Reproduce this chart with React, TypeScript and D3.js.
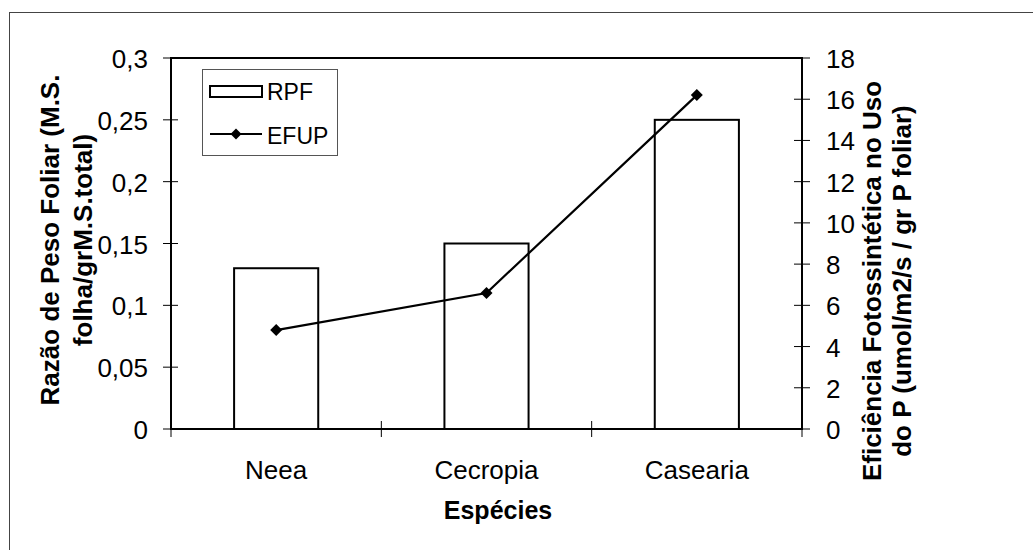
import React from "react";
import * as d3 from "d3";

const categories = ["Neea", "Cecropia", "Casearia"];
const rpfValues = [0.13, 0.15, 0.25];
const efupValues = [4.8, 6.6, 16.2];
const leftTicks = [0, 0.05, 0.1, 0.15, 0.2, 0.25, 0.3];
const rightTicks = [0, 2, 4, 6, 8, 10, 12, 14, 16, 18];

const W = 1033;
const H = 550;
const FONT = "'Liberation Sans', Arial, Helvetica, sans-serif";

const plot = {left: 171, right: 802, top: 58, bottom: 429};

const fmtLeft = (v: number) => String(v).replace(".", ",");

const App: React.FC = () => {
	const x = d3
		.scaleBand<string>()
		.domain(categories)
		.range([plot.left, plot.right])
		.paddingInner(0.6)
		.paddingOuter(0.3);
	const step = x.step();
	const yL = d3.scaleLinear().domain([0, 0.3]).range([plot.bottom, plot.top]);
	const yR = d3.scaleLinear().domain([0, 18]).range([plot.bottom, plot.top]);

	const cx = (c: string) => (x(c) as number) + x.bandwidth() / 2;

	const line = d3
		.line<number>()
		.x((_, i) => cx(categories[i]))
		.y((d) => yR(d));

	const diamond = (px: number, py: number, r = 5.5) =>
		`M${px},${py - r}L${px + r},${py}L${px},${py + r}L${px - r},${py}Z`;

	// category boundaries for x ticks
	const boundaries = [plot.left, ...categories.map((c) => (x(c) as number) - step * 0.3 + step)];

	return (
		<svg
			width={W}
			height={H}
			style={{position: "absolute", left: 0, top: 0, background: "#fff"}}
			fontFamily={FONT}
		>
			{/* outer chart border */}
			<rect x={9.5} y={12.5} width={W + 20} height={H + 20} fill="none" stroke="#444" strokeWidth={1} />

			{/* bars */}
			{categories.map((c, i) => (
				<rect
					key={c}
					x={x(c)}
					y={yL(rpfValues[i])}
					width={x.bandwidth()}
					height={plot.bottom - yL(rpfValues[i])}
					fill="#fff"
					stroke="#000"
					strokeWidth={2}
				/>
			))}

			{/* plot frame */}
			<rect
				x={plot.left}
				y={plot.top}
				width={plot.right - plot.left}
				height={plot.bottom - plot.top}
				fill="none"
				stroke="#000"
				strokeWidth={2}
			/>

			{/* left axis ticks */}
			{leftTicks.map((t) => (
				<g key={"l" + t}>
					<line x1={plot.left - 8} x2={plot.left + 7} y1={yL(t)} y2={yL(t)} stroke="#000" strokeWidth={1} />
					<text x={148} y={yL(t) + 10} textAnchor="end" fontSize={26} fill="#000">
						{fmtLeft(t)}
					</text>
				</g>
			))}

			{/* right axis ticks */}
			{rightTicks.map((t) => (
				<g key={"r" + t}>
					<line x1={plot.right - 8} x2={plot.right + 8} y1={yR(t)} y2={yR(t)} stroke="#000" strokeWidth={1} />
					<text x={826} y={yR(t) + 10} textAnchor="start" fontSize={26} fill="#000">
						{t}
					</text>
				</g>
			))}

			{/* x ticks */}
			{boundaries.map((b, i) => (
				<line key={"x" + i} x1={b} x2={b} y1={plot.bottom - 8} y2={plot.bottom + 8} stroke="#000" strokeWidth={1} />
			))}
			{categories.map((c) => (
				<text key={"c" + c} x={cx(c)} y={479} textAnchor="middle" fontSize={26} fill="#000">
					{c}
				</text>
			))}

			{/* EFUP line */}
			<path d={line(efupValues) || ""} fill="none" stroke="#000" strokeWidth={2.2} />
			{efupValues.map((v, i) => (
				<path key={"m" + i} d={diamond(cx(categories[i]), yR(v), 6)} fill="#000" />
			))}

			{/* axis titles */}
			<text x={498} y={519} textAnchor="middle" fontSize={25} fontWeight="bold" fill="#000">
				Espécies
			</text>
			<g transform="translate(50,240) rotate(-90)" fontSize={26} fontWeight="bold" fill="#000">
				<text x={0} y={9} textAnchor="middle">Razão de Peso Foliar (M.S.</text>
				<text x={0} y={42} textAnchor="middle">folha/grM.S.total)</text>
			</g>
			<g transform="translate(872,281) rotate(-90)" fontSize={26} fontWeight="bold" fill="#000">
				<text x={0} y={9} textAnchor="middle">Eficiência Fotossintética no Uso</text>
				<text x={0} y={39} textAnchor="middle">do P (umol/m2/s / gr P foliar)</text>
			</g>

			{/* legend */}
			<rect x={202.5} y={69.5} width={135} height={86} fill="#fff" stroke="#555" strokeWidth={1} />
			<rect x={210} y={86} width={52} height={11} fill="#fff" stroke="#000" strokeWidth={2} />
			<text x={267} y={100} fontSize={23} fill="#000">RPF</text>
			<line x1={210} x2={262} y1={134} y2={134} stroke="#000" strokeWidth={2} />
			<path d={diamond(236, 134)} fill="#000" />
			<text x={267} y={144} fontSize={23} fill="#000">EFUP</text>
		</svg>
	);
};

export default App;
